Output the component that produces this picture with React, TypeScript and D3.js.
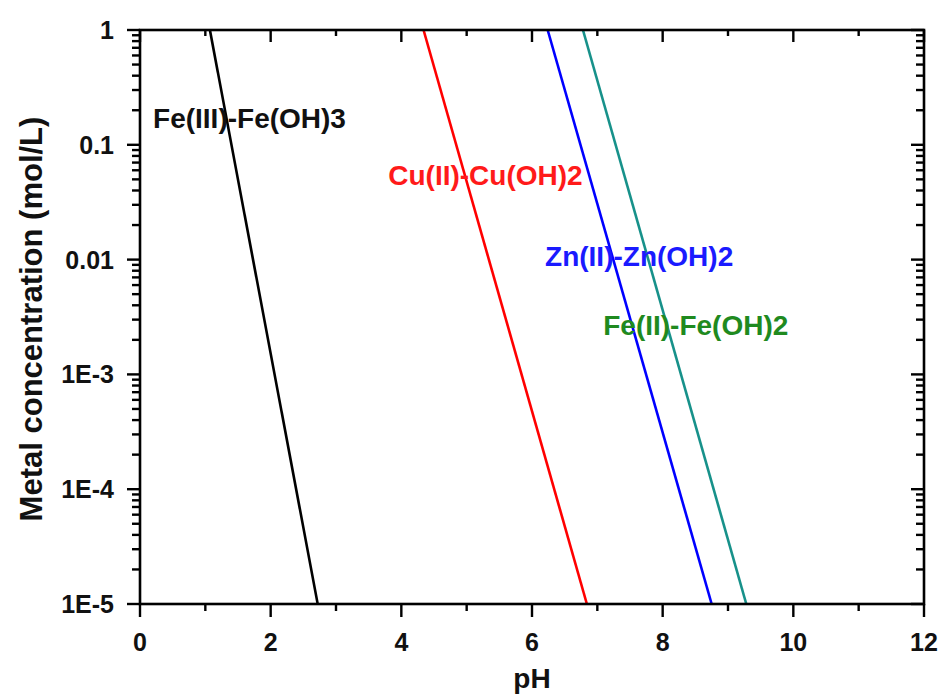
import React from 'react'
import * as d3 from 'd3'

// each line: [pH, concentration] at its two ends
const species = ['Fe(III)-Fe(OH)3', 'Cu(II)-Cu(OH)2', 'Zn(II)-Zn(OH)2', 'Fe(II)-Fe(OH)2']
const phAtTop = [1.07, 4.34, 6.24, 6.78]
const phAtBottom = [2.72, 6.84, 8.75, 9.28]
const concTop = 1
const concBottom = 1e-5

const xTicks = [0, 2, 4, 6, 8, 10, 12]
const xMinorTicks = [1, 3, 5, 7, 9, 11]
const yTicks = [1, 0.1, 0.01, 1e-3, 1e-4, 1e-5]
const yTickLabels = ['1', '0.1', '0.01', '1E-3', '1E-4', '1E-5']

const lineColors = ['#000000', '#ff0000', '#0000ff', '#17918a']
const labelColors = ['#111111', '#ff1a1a', '#1a1aff', '#1f8a1f']
// label anchor (left edge, middle) in data units
const labelPh = [0.2, 3.8, 6.2, 7.09]
const labelConc = [0.17, 0.054, 0.0107, 0.00269]

const width = 943
const height = 698
const left = 140
const right = 924
const top = 30
const bottom = 604
const font = 'Liberation Sans, Arial, Helvetica, sans-serif'

const x = d3.scaleLinear().domain([0, 12]).range([left, right])
const y = d3.scaleLog().domain([1e-5, 1]).range([bottom, top])

const yMinorTicks: number[] = []
for (let e = -5; e < 0; e++) {
    for (let m = 2; m <= 9; m++) yMinorTicks.push(m * Math.pow(10, e))
}

const line = d3.line<[number, number]>().x(d => x(d[0])).y(d => y(d[1]))

function Chart() {
    const tickStroke = { stroke: '#000', strokeWidth: 2.4 }
    return (
        <svg width={width} height={height} style={{ display: 'block' }}>
            {/* ticks: bottom outward, top inward */}
            {xTicks.map(v => (
                <g key={'xt' + v} {...tickStroke}>
                    <line x1={x(v)} x2={x(v)} y1={bottom} y2={bottom + 13} />
                    <line x1={x(v)} x2={x(v)} y1={top} y2={top + 12} />
                </g>
            ))}
            {xMinorTicks.map(v => (
                <g key={'xm' + v} {...tickStroke}>
                    <line x1={x(v)} x2={x(v)} y1={bottom} y2={bottom + 7} />
                    <line x1={x(v)} x2={x(v)} y1={top} y2={top + 6} />
                </g>
            ))}
            {/* ticks: left outward, right inward */}
            {yTicks.map(v => (
                <g key={'yt' + v} {...tickStroke}>
                    <line x1={left} x2={left - 13} y1={y(v)} y2={y(v)} />
                    <line x1={right} x2={right - 13} y1={y(v)} y2={y(v)} />
                </g>
            ))}
            {yMinorTicks.map(v => (
                <g key={'ym' + v} {...tickStroke}>
                    <line x1={left} x2={left - 8} y1={y(v)} y2={y(v)} />
                    <line x1={right} x2={right - 8} y1={y(v)} y2={y(v)} />
                </g>
            ))}

            {/* tick labels */}
            {xTicks.map(v => (
                <text key={'xl' + v} x={x(v)} y={642} textAnchor="middle" dominantBaseline="central"
                    fontSize={25} fontWeight="bold" fontFamily={font} fill="#111">{d3.format('d')(v)}</text>
            ))}
            {yTicks.map((v, i) => (
                <text key={'yl' + v} x={114} y={y(v)} textAnchor="end" dominantBaseline="central"
                    fontSize={25} fontWeight="bold" fontFamily={font} fill="#111">{yTickLabels[i]}</text>
            ))}

            {/* lines */}
            {species.map((s, i) => (
                <path key={s} d={line([[phAtTop[i], concTop], [phAtBottom[i], concBottom]]) || ''}
                    fill="none" stroke={lineColors[i]} strokeWidth={2.6} />
            ))}

            {/* frame */}
            <rect x={left} y={top} width={right - left} height={bottom - top}
                fill="none" stroke="#000" strokeWidth={2.6} />

            {/* labels */}
            {species.map((s, i) => (
                <text key={'lab' + s} x={x(labelPh[i])} y={y(labelConc[i])} dominantBaseline="central"
                    fontSize={28} fontWeight="bold" fontFamily={font} fill={labelColors[i]}>{s}</text>
            ))}

            {/* axis titles */}
            <text x={(left + right) / 2} y={688} textAnchor="middle" fontSize={28} fontWeight="bold"
                fontFamily={font} fill="#111">pH</text>
            <text transform={`translate(42,${(top + bottom) / 2 + 2}) rotate(-90)`} textAnchor="middle"
                fontSize={31} fontWeight="bold" fontFamily={font} fill="#111">Metal concentration (mol/L)</text>
        </svg>
    )
}

export default function App() {
    return (
        <div style={{ position: 'fixed', left: 0, top: 0, width, height, overflow: 'hidden', background: '#fff' }}>
            <Chart />
        </div>
    )
}
